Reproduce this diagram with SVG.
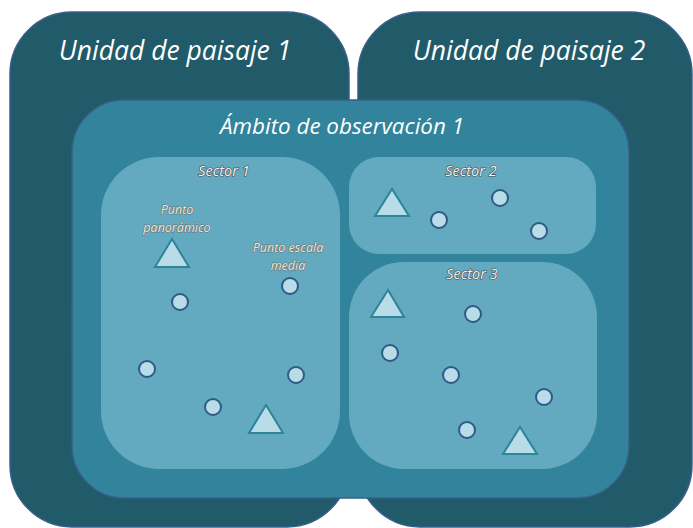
<svg xmlns="http://www.w3.org/2000/svg" width="693" height="528" viewBox="0 0 693 528">
<style>
.unit{fill:#215a69;stroke:#3a5e8a;stroke-width:1.5}
.amb{fill:#31849b;stroke:#3a5e8a;stroke-width:1.5}
.sec{fill:#63a9bf}
.pt{fill:#b9dde8;stroke:#2f5a85;stroke-width:2}
.tri{fill:#b9dde8;stroke:#2e8499;stroke-width:2;stroke-linejoin:miter}
.big{font-family:"Open Sans","Noto Sans",sans-serif;font-style:italic;fill:#ffffff;text-anchor:middle}
.sl{font-family:"Open Sans","Noto Sans",sans-serif;font-style:italic;fill:#f4f4f4;stroke:#4a4a4a;stroke-width:1.2;paint-order:stroke;text-anchor:middle;font-size:14.5px}
.lab{font-family:"Open Sans","Noto Sans",sans-serif;font-style:italic;fill:#f0ead8;stroke:#6a6a6a;stroke-width:1;paint-order:stroke;text-anchor:middle;font-size:12.5px}
</style>
<rect width="693" height="528" fill="#ffffff"/>
<g id="unidad1">
<rect class="unit" x="10" y="12" width="339" height="515" rx="62"/>
<text class="big" x="175" y="60" font-size="26.5">Unidad de paisaje 1</text>
</g>
<g id="unidad2">
<rect class="unit" x="358" y="12" width="334" height="515" rx="62"/>
<text class="big" x="529" y="60" font-size="26.5">Unidad de paisaje 2</text>
</g>
<g id="ambito">
<rect class="amb" x="72" y="100" width="557" height="398" rx="52"/>
<text class="big" x="342" y="134" font-size="22.4">Ámbito de observación 1</text>
</g>
<g id="sector1">
<rect class="sec" x="101" y="157" width="239" height="312" rx="58"/>
<text class="sl" x="224" y="176">Sector 1</text>
</g>
<g id="sector2">
<rect class="sec" x="349" y="157" width="247" height="97" rx="30"/>
<text class="sl" x="471" y="176">Sector 2</text>
</g>
<g id="sector3">
<rect class="sec" x="349" y="262" width="248" height="207" rx="55"/>
<text class="sl" x="472" y="279">Sector 3</text>
</g>
<g id="punto-panoramico">
<text class="lab" x="177" y="214">Punto</text>
<text class="lab" x="177" y="232">panorámico</text>
<polygon class="tri" points="172,239 155,267 189,267"/>
</g>
<g id="punto-escala-media">
<text class="lab" x="288" y="252">Punto escala</text>
<text class="lab" x="288" y="270">media</text>
<circle class="pt" cx="290" cy="286" r="8"/>
</g>
<g id="s1-points">
<circle class="pt" cx="180" cy="302" r="8"/>
<circle class="pt" cx="147" cy="369" r="8"/>
<circle class="pt" cx="296" cy="375" r="8"/>
<circle class="pt" cx="213" cy="407" r="8"/>
<polygon class="tri" points="266,405 249,433 283,433"/>
</g>
<g id="s2-points">
<polygon class="tri" points="392,189 375,216 409,216"/>
<circle class="pt" cx="439" cy="220" r="8"/>
<circle class="pt" cx="500" cy="198" r="8"/>
<circle class="pt" cx="539" cy="231" r="8"/>
</g>
<g id="s3-points">
<polygon class="tri" points="388,290 371,317 404,317"/>
<circle class="pt" cx="473" cy="314" r="8"/>
<circle class="pt" cx="390" cy="353" r="8"/>
<circle class="pt" cx="451" cy="375" r="8"/>
<circle class="pt" cx="544" cy="397" r="8"/>
<circle class="pt" cx="467" cy="430" r="8"/>
<polygon class="tri" points="520,427 503,454 537,454"/>
</g>
<g id="connectors"></g>
</svg>
